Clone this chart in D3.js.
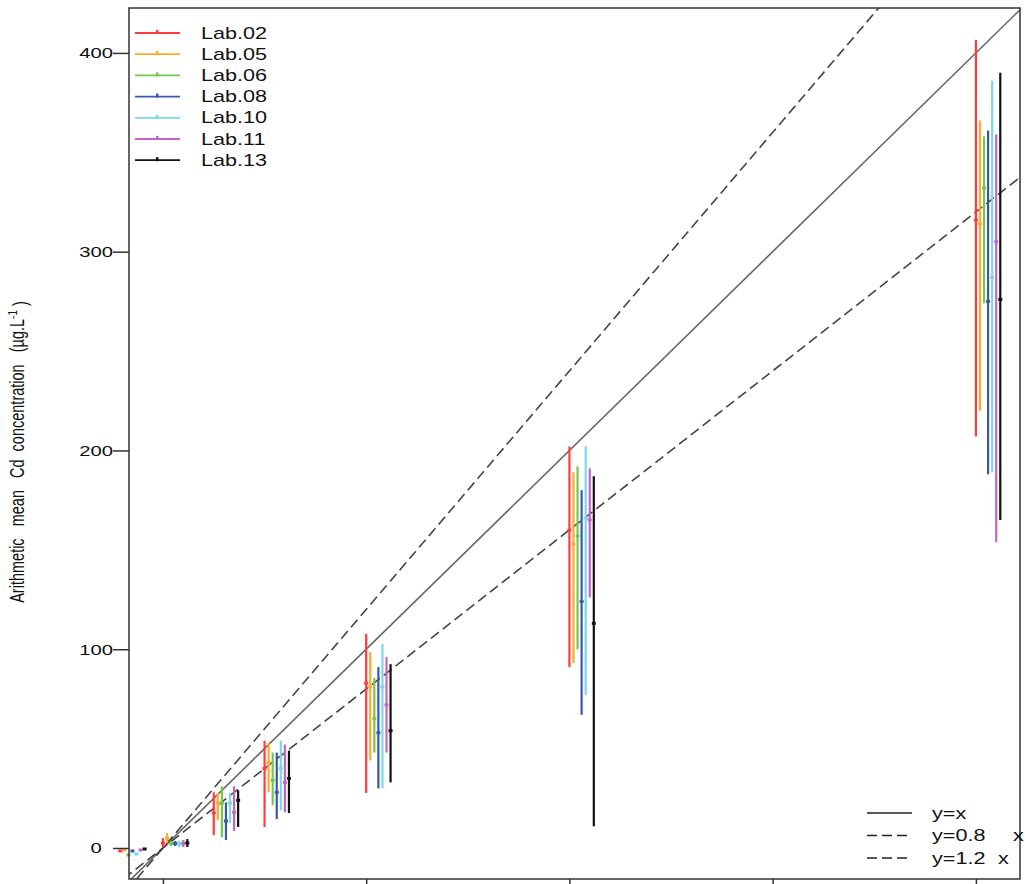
<!DOCTYPE html>
<html>
<head>
<meta charset="utf-8">
<script src="https://cdn.jsdelivr.net/npm/d3@7"></script>
<style>
  body { margin: 0; background: #fff; }
  svg { display: block; font-family: "Liberation Sans", Arial, sans-serif; }
  text { white-space: pre; }
</style>
</head>
<body>
<div class="container"></div>
<script>
const width = 1025,
    height = 884,
    stretch = 1.35;   // the original picture is stretched sideways

// labs and their colours
const labs = ['Lab.02', 'Lab.05', 'Lab.06', 'Lab.08', 'Lab.10', 'Lab.11', 'Lab.13'];
const labColors = ['#ff3b3b', '#ffaa2a', '#74c850', '#3a56ae', '#78d8ec', '#c862c8', '#111111'];

// nominal concentration of each group (x), labs are shifted right by labStep each
const levels = [-21, 0, 25, 50, 100, 200, 400];
const labStep = 2;

// [level][lab]
const meanVals = [
    [-1.5, -1, -3.5, -1.5, -3, -1, -0.5],
    [2.5, 5, 2.3, 2.3, 2, 2.3, 2.5],
    [17.6, 22.6, 22.6, 13.6, 22.6, 18, 24],
    [40, 43, 34, 28, 40, 33, 35],
    [83, 81, 65, 58, 81, 72, 59],
    [160, 153, 157, 124, 166, 165, 113],
    [316, 314, 332, 275, 287, 305, 276]
];
const lowVals = [
    [-2, -1.5, -4, -2, -3.5, -1.5, -1],
    [0.5, 2.5, 1, 1, 0.5, 0.5, 0.5],
    [6.5, 14, 5.5, 4, 12.6, 8.6, 10.6],
    [10.6, 28, 21.6, 14.6, 19, 18, 17.6],
    [27.7, 44, 48, 30, 30, 48, 33],
    [91, 93, 100, 67, 77, 126, 11],
    [207, 220, 274, 188, 189, 154, 165]
];
const highVals = [
    [-1, -0.5, -3, -1, -2.5, -0.5, 0],
    [5, 7.5, 3.5, 3.5, 3.5, 4, 4.5],
    [28, 27.7, 31, 23, 27.7, 31, 29],
    [54, 53, 48, 48, 54, 52, 49],
    [107.7, 98.6, 85.5, 91, 102.6, 96, 92.5],
    [202, 189, 192, 180, 202, 191, 187],
    [406.5, 366, 358, 361, 386, 359, 390]
];

const xTicks = [0, 100, 200, 300, 400];
const yTicks = [0, 100, 200, 300, 400];

// reference lines y = k x
const refSlopes = [1, 0.8, 1.2];
const refLabels = ['y=x', 'y=0.8', 'y=1.2'];

const box = { left: 129, right: 1020, top: 8, bottom: 879 };

const x = d3.scaleLinear().domain([-16.7, 421.7]).range([box.left, box.right]);
const y = d3.scaleLinear().domain([-15.6, 422.6]).range([box.bottom, box.top]);

const svg = d3.select('.container')
    .append('svg')
    .attr('width', width)
    .attr('height', height);

svg.append('rect').attr('width', width).attr('height', height).attr('fill', '#fff');

svg.append('defs').append('clipPath')
    .attr('id', 'plot-clip')
    .append('rect')
    .attr('x', box.left)
    .attr('y', box.top)
    .attr('width', box.right - box.left)
    .attr('height', box.bottom - box.top);

// reference lines
const lineGen = d3.line().x(d => x(d[0])).y(d => y(d[1]));
const xd = x.domain();
svg.append('g')
    .attr('clip-path', 'url(#plot-clip)')
    .selectAll('path')
    .data(refSlopes)
    .enter()
    .append('path')
    .attr('d', k => lineGen([[xd[0] - 20, k * (xd[0] - 20)], [xd[1] + 20, k * (xd[1] + 20)]]))
    .attr('fill', 'none')
    .attr('stroke', (k, i) => i === 0 ? '#666' : '#444')
    .attr('stroke-width', 1.6)
    .attr('stroke-dasharray', (k, i) => i === 0 ? null : '10,5');

// error bars
const points = [];
levels.forEach((lv, g) => {
    labs.forEach((lab, i) => {
        points.push({
            x: lv + i * labStep,
            mean: meanVals[g][i],
            lo: lowVals[g][i],
            hi: highVals[g][i],
            color: labColors[i]
        });
    });
});

const bars = svg.append('g').attr('class', 'bars');

bars.selectAll('line')
    .data(points)
    .enter()
    .append('line')
    .attr('x1', d => x(d.x))
    .attr('x2', d => x(d.x))
    .attr('y1', d => y(d.lo))
    .attr('y2', d => y(d.hi))
    .attr('stroke', d => d.color)
    .attr('stroke-width', 2.2);

bars.selectAll('rect')
    .data(points)
    .enter()
    .append('rect')
    .attr('x', d => x(d.x) - 2)
    .attr('y', d => y(d.mean) - 1.5)
    .attr('width', 4)
    .attr('height', 3)
    .attr('fill', d => d.color);

// box
svg.append('rect')
    .attr('x', box.left)
    .attr('y', box.top)
    .attr('width', box.right - box.left)
    .attr('height', box.bottom - box.top)
    .attr('fill', 'none')
    .attr('stroke', '#333')
    .attr('stroke-width', 1.5);

// y axis
const yAxis = svg.append('g')
    .attr('transform', `translate(${box.left},0)`)
    .call(d3.axisLeft(y).tickValues(yTicks).tickSize(16).tickFormat(d3.format('d')));

yAxis.select('.domain').remove();
yAxis.selectAll('line').attr('stroke', '#333').attr('stroke-width', 1.5);
yAxis.selectAll('text')
    .attr('x', -33 / stretch)
    .attr('text-anchor', 'middle')
    .attr('transform', `scale(${stretch},1)`)
    .attr('fill', '#111')
    .style('font-size', '15px');

// x axis (labels fall outside the picture)
const xAxis = svg.append('g')
    .attr('transform', `translate(0,${box.bottom})`)
    .call(d3.axisBottom(x).tickValues(xTicks).tickSize(16).tickFormat(''));
xAxis.select('.domain').remove();
xAxis.selectAll('line').attr('stroke', '#333').attr('stroke-width', 1.5);

// y label
const ylab = svg.append('text')
    .attr('transform', `translate(17,452) scale(${stretch},1) rotate(-90)`)
    .attr('text-anchor', 'middle')
    .attr('dy', '0.35em')
    .attr('fill', '#111')
    .style('font-size', '14.5px');
ylab.append('tspan').text('Arithmetic   mean   Cd  concentration   (\u00b5g.L');
ylab.append('tspan').attr('dy', '-0.5em').style('font-size', '10px').text('-1');
ylab.append('tspan').attr('dy', '0.5em').text(' )');

// legend of labs
const legend = svg.append('g').attr('id', 'legend');
const legendItem = legend.selectAll('g')
    .data(labs)
    .enter()
    .append('g')
    .attr('transform', (d, i) => `translate(135, ${33 + i * 21.2})`);

legendItem.append('line')
    .attr('x1', 0).attr('x2', 45)
    .attr('stroke', (d, i) => labColors[i])
    .attr('stroke-width', 1.8);
legendItem.append('rect')
    .attr('x', 21).attr('y', -3)
    .attr('width', 2.5).attr('height', 4)
    .attr('fill', (d, i) => labColors[i]);
legendItem.append('text')
    .attr('x', 66 / stretch)
    .attr('dy', '0.35em')
    .attr('transform', `scale(${stretch},1)`)
    .attr('fill', '#111')
    .style('font-size', '16px')
    .text(d => d);

// legend of reference lines
const refLegend = svg.append('g')
    .selectAll('g')
    .data(refSlopes)
    .enter()
    .append('g')
    .attr('transform', (d, i) => `translate(867, ${813 + i * 22.5})`);

refLegend.append('line')
    .attr('x1', 0).attr('x2', 45)
    .attr('stroke', '#222')
    .attr('stroke-width', 1.5)
    .attr('stroke-dasharray', (d, i) => i === 0 ? null : '10,5');
refLegend.append('text')
    .attr('x', 65 / stretch)
    .attr('dy', '0.35em')
    .attr('transform', `scale(${stretch},1)`)
    .attr('fill', '#111')
    .style('font-size', '16px')
    .text((d, i) => refLabels[i]);
refLegend.filter((d, i) => i > 0)
    .append('text')
    .attr('x', (d, i) => (i === 0 ? 146 : 131) / stretch)
    .attr('dy', '0.35em')
    .attr('transform', `scale(${stretch},1)`)
    .attr('fill', '#111')
    .style('font-size', '16px')
    .text('x');
</script>
</body>
</html>
